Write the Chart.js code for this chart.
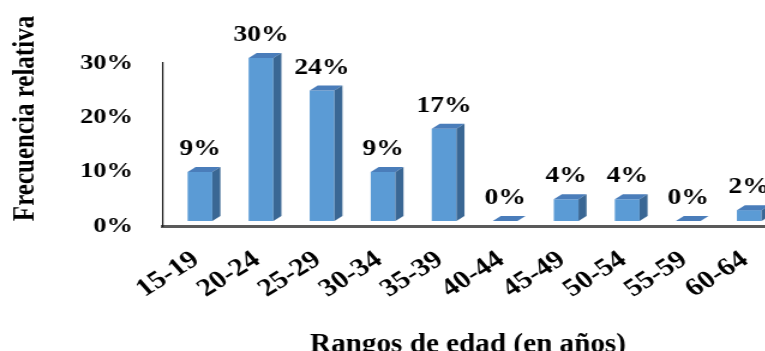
<!DOCTYPE html>
<html>
<head>
<meta charset="utf-8">
<script src="https://cdn.jsdelivr.net/npm/chart.js@4"></script>
<style>
  html, body { margin: 0; padding: 0; background: #fff; }
  body { width: 765px; height: 351px; overflow: hidden; position: relative; }
  /* the source picture is stretched horizontally, so the chart is drawn narrow and widened */
  #wrap { position: absolute; left: 0; top: 0; width: 656px; height: 351px; transform: scaleX(1.2); transform-origin: 0 0; }
</style>
</head>
<body>
<div id="wrap"><canvas id="chart"></canvas></div>
<script>
const ageRanges = ["15-19", "20-24", "25-29", "30-34", "35-39", "40-44", "45-49", "50-54", "55-59", "60-64"];
const relFreq = [9, 30, 24, 9, 17, 0, 4, 4, 0, 2];
const yTickValues = [0, 10, 20, 30];
const xTitle = "Rangos de edad (en años)";
const yTitle = "Frecuencia relativa";

const FRONT = "#5b9bd5";
const TOP = "#4a7dba";
const SIDE = "#3a6794";
const FONT = "'Liberation Serif', 'Times New Roman', serif";

// fake 3D: front face shifted right/up, then top and side faces added
const SHIFT_X = 5.4;
const SHIFT_Y = -5;
const DEPTH_X = 6.7;
const DEPTH_Y = 5;

const bars3d = {
  id: "bars3d",
  beforeDatasetsDraw(chart) {
    chart.ctx.save();
    chart.ctx.translate(SHIFT_X, SHIFT_Y);
  },
  afterDatasetsDraw(chart) {
    const ctx = chart.ctx;
    ctx.restore();
    const meta = chart.getDatasetMeta(0);
    ctx.save();
    meta.data.forEach((el, i) => {
      const p = el.getProps(["x", "y", "base", "width"], true);
      const l = p.x - p.width / 2 + SHIFT_X;
      const r = p.x + p.width / 2 + SHIFT_X;
      const t = p.y + SHIFT_Y;
      const b = p.base + SHIFT_Y;
      // top face
      ctx.fillStyle = TOP;
      ctx.beginPath();
      ctx.moveTo(l, t);
      ctx.lineTo(l + DEPTH_X, t - DEPTH_Y);
      ctx.lineTo(r + DEPTH_X, t - DEPTH_Y);
      ctx.lineTo(r, t);
      ctx.closePath();
      ctx.fill();
      // side face
      if (b - t > 0.5) {
        ctx.fillStyle = SIDE;
        ctx.beginPath();
        ctx.moveTo(r, t);
        ctx.lineTo(r + DEPTH_X, t - DEPTH_Y);
        ctx.lineTo(r + DEPTH_X, b - DEPTH_Y);
        ctx.lineTo(r, b);
        ctx.closePath();
        ctx.fill();
      }
      // value label
      ctx.fillStyle = "#000";
      ctx.font = "bold 23px " + FONT;
      ctx.textAlign = "center";
      ctx.textBaseline = "middle";
      ctx.fillText(relFreq[i] + "%", p.x + SHIFT_X, t - 23);
    });
    ctx.restore();
  },
};

// axis titles placed by hand: the source has them off-centre from the plot
const axisTitles = {
  id: "axisTitles",
  afterDraw(chart) {
    const ctx = chart.ctx;
    ctx.save();
    ctx.fillStyle = "#000";
    ctx.textAlign = "center";
    ctx.textBaseline = "alphabetic";

    ctx.font = "bold 25px " + FONT;
    ctx.save();
    ctx.translate(27.5, 118.5);
    ctx.rotate(-Math.PI / 2);
    ctx.fillText(yTitle, 0, 0);
    ctx.restore();

    ctx.font = "bold 27px " + FONT;
    ctx.save();
    ctx.translate(390, 352);
    ctx.scale(0.9, 1);
    ctx.fillText(xTitle, 0, 0);
    ctx.restore();

    ctx.restore();
  },
};

new Chart(document.getElementById("chart"), {
  type: "bar",
  data: {
    labels: ageRanges,
    datasets: [{
      data: relFreq,
      backgroundColor: FRONT,
      borderWidth: 0,
      barPercentage: 0.405,
      categoryPercentage: 1,
      clip: false,
    }],
  },
  options: {
    responsive: true,
    maintainAspectRatio: false,
    animation: false,
    devicePixelRatio: 1,
    layout: { padding: { top: 63, right: 0, left: 0, bottom: 0 } },
    plugins: { legend: { display: false }, tooltip: { enabled: false } },
    scales: {
      x: {
        grid: { display: false, drawTicks: false },
        border: { display: true, color: "#5a5a5a", width: 3 },
        ticks: {
          color: "#000",
          font: { family: FONT, size: 25, weight: "bold" },
          minRotation: 37,
          maxRotation: 37,
          autoSkip: false,
          padding: 19,
          labelOffset: 2,
        },
        afterFit(scale) { scale.height = 125; },
      },
      y: {
        min: 0,
        max: 30,
        afterBuildTicks(scale) { scale.ticks = yTickValues.map((v) => ({ value: v })); },
        grid: { display: false, drawTicks: false },
        border: { display: true, color: "#1a1a1a", width: 1.2 },
        ticks: {
          color: "#000",
          font: { family: FONT, size: 22, weight: "bold" },
          padding: 25,
          callback: (v) => v + "%",
        },
        afterFit(scale) { scale.width = 135.8; },
      },
    },
  },
  plugins: [bars3d, axisTitles],
});
</script>
</body>
</html>
